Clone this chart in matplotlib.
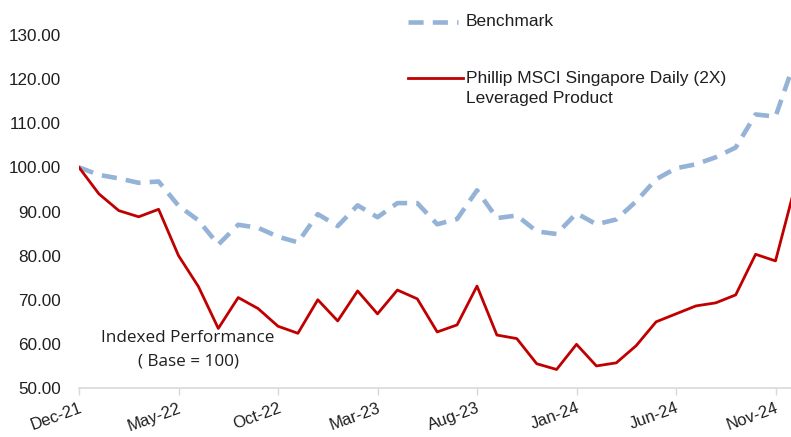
import matplotlib
matplotlib.use("Agg")
import matplotlib.pyplot as plt
from matplotlib.lines import Line2D
import pandas as pd

months = pd.date_range("2021-12-01", periods=37, freq="MS")
month_labels = [d.strftime("%b-%y") for d in months]

benchmark = [100, 98.3, 97.5, 96.5, 96.8, 91.3, 88, 82.5, 87, 86.3, 84.3, 83,
             89.4, 86.7, 91.4, 88.7, 91.9, 91.9, 87.1, 88.3, 94.8, 88.5, 89.1, 85.5,
             84.9, 89.6, 87.1, 88.2, 92.3, 97.3, 99.8, 100.7, 102.3, 104.5, 112, 111.5,
             124.5]
product = [100, 94, 90.2, 88.8, 90.5, 80, 73, 63.5, 70.5, 68, 64, 62.4,
           70, 65.2, 72, 66.8, 72.2, 70.2, 62.7, 64.3, 73.1, 62, 61.2, 55.5,
           54.2, 59.9, 55, 55.7, 59.6, 65, 66.8, 68.6, 69.3, 71.1, 80.3, 78.8,
           96]
yticks = [50, 60, 70, 80, 90, 100, 110, 120, 130]

bench_color = "#95B3D7"
red_color = "#C00000"
txt_color = "#1F1F1F"
font = "Liberation Sans"

fig = plt.figure(figsize=(7.91, 4.37), dpi=100)
ax = fig.add_axes([79/791, 1-388/437, 1-79/791, (388-35)/437])

x = list(range(len(months)))
ax.plot(x, benchmark, color=bench_color, lw=3.3, ls=(0, (3.3, 2.0)), solid_capstyle="butt")
ax.plot(x, product, color=red_color, lw=2.0)

ax.set_xlim(0, (791-79)/19.9)
ax.set_ylim(50, 130)
ax.set_yticks(yticks)
ax.set_yticklabels([f"{v:.2f}" for v in yticks], fontsize=12.3, family=font, color=txt_color)
ax.tick_params(axis="y", length=0, pad=13)

xt = x[::5]
ax.set_xticks(xt)
ax.set_xticklabels([month_labels[i] for i in xt], rotation=20, ha="right",
                   rotation_mode="anchor", fontsize=12, family=font, color=txt_color)
ax.tick_params(axis="x", length=5, width=1, color="#D9D9D9", pad=4)

for s in ["top", "right", "left"]:
    ax.spines[s].set_visible(False)
ax.spines["bottom"].set_color("#D9D9D9")
ax.spines["bottom"].set_linewidth(1.2)

# annotation
fig.text(188/791, 1-338/437, "Indexed Performance", ha="center", va="center",
         fontsize=12.3, family="Open Sans", color=txt_color)
fig.text(188/791, 1-362/437, "( Base = 100)", ha="center", va="center",
         fontsize=12.3, family="Open Sans", color=txt_color)

# legend
fig.add_artist(Line2D([408/791, 458/791], [1-22/437, 1-22/437], color=bench_color,
                      lw=3.3, ls=(0, (3.3, 2.0)), transform=fig.transFigure))
fig.text(466/791, 1-22/437, "Benchmark", ha="left", va="center", fontsize=12.5,
         family=font, color=txt_color)
fig.add_artist(Line2D([408/791, 463/791], [1-78/437, 1-78/437], color=red_color,
                      lw=2.0, transform=fig.transFigure))
fig.text(466/791, 1-78/437, "Phillip MSCI Singapore Daily (2X)", ha="left", va="center",
         fontsize=12.5, family=font, color=txt_color)
fig.text(466/791, 1-99/437, "Leveraged Product", ha="left", va="center",
         fontsize=12.5, family=font, color=txt_color)

fig.savefig("out.png", dpi=100)
